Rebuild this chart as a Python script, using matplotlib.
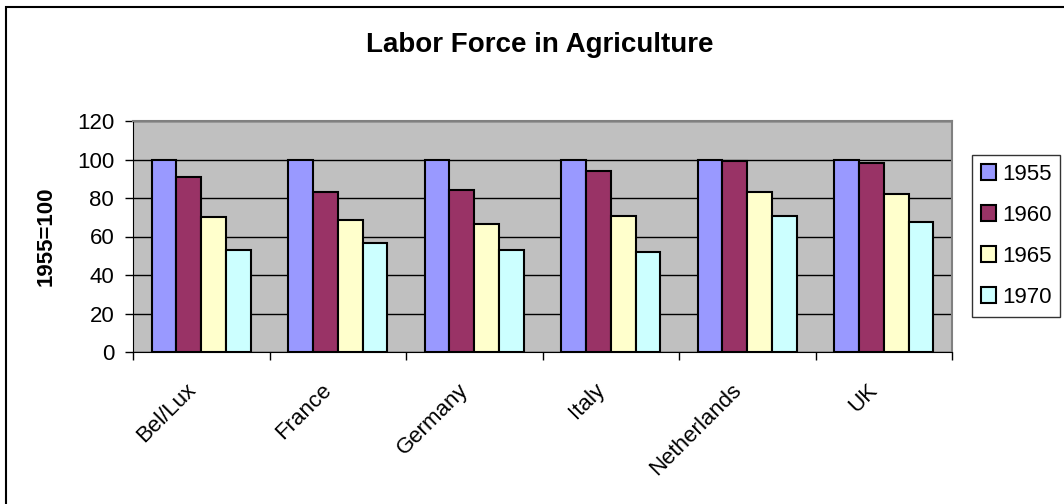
import numpy as np
import matplotlib.pyplot as plt
import matplotlib.transforms as mtransforms
from matplotlib.patches import Rectangle

plt.rcParams['font.family'] = ['Liberation Sans', 'DejaVu Sans']

countries = ["Bel/Lux", "France", "Germany", "Italy", "Netherlands", "UK"]
years = ["1955", "1960", "1965", "1970"]
v1955 = [100, 100, 100, 100, 100, 100]
v1960 = [91, 83, 84, 94, 99, 98]
v1965 = [70, 68.5, 66.5, 70.5, 83, 82]
v1970 = [53, 56.5, 53, 52, 70.5, 67.5]
colors = ["#9999FF", "#993366", "#FFFFCC", "#CCFFFF"]

fig = plt.figure(figsize=(10.64, 5.04), dpi=100)
ax = fig.add_axes([133 / 1064, 1 - 352 / 504, (952 - 133) / 1064, (352 - 121) / 504])

# outer chart border (only left and top fall inside the picture)
fig.patches.append(Rectangle((5.5 / 1064, -0.1), 1.2, 1.1 - 7 / 504,
                             transform=fig.transFigure, fill=False,
                             edgecolor="black", linewidth=1.5))

x = np.arange(len(countries))
w = 1 / 5.5
for i, (vals, c, yr) in enumerate(zip([v1955, v1960, v1965, v1970], colors, years)):
    ax.bar(x + (i - 1.5) * w, vals, width=w, color=c, edgecolor="black",
           linewidth=1.5, label=yr, zorder=3)

ax.set_facecolor("#C0C0C0")
ax.set_xlim(-0.5, len(countries) - 0.5)
ax.set_ylim(0, 120)
ax.set_yticks(range(0, 121, 20))
ax.yaxis.grid(True, color="black", linewidth=1, zorder=0)
ax.tick_params(axis="y", labelsize=16, direction="out", length=5.5, width=1, pad=8)

# ticks between categories, labels at the centers
ax.set_xticks(np.arange(-0.5, len(countries), 1))
ax.set_xticklabels([])
ax.set_xticks(x, minor=True)
ax.set_xticklabels(countries, minor=True, rotation=45, ha="right", va="center",
                   rotation_mode="anchor", fontsize=16)
ax.tick_params(axis="x", which="major", direction="out", length=6, width=1)
ax.tick_params(axis="x", which="minor", length=0, pad=25)
shift = mtransforms.ScaledTranslation(-0.09, 0, fig.dpi_scale_trans)
for lbl in ax.get_xticklabels(minor=True):
    lbl.set_transform(lbl.get_transform() + shift)

for s in ["left", "bottom"]:
    ax.spines[s].set_color("black")
for s in ["top", "right"]:
    ax.spines[s].set_color("#808080")
    ax.spines[s].set_linewidth(1.5)

ax.set_ylabel("1955=100", fontsize=16, fontweight="bold")
ax.yaxis.set_label_coords(-0.093, 0.5)
fig.text(540 / 1064, 1 - 45 / 504, "Labor Force in Agriculture", ha="center",
         va="center", fontsize=20, fontweight="bold")

leg = ax.legend(loc="upper left", bbox_to_anchor=(972 / 1064, 1 - 155 / 504),
                bbox_transform=fig.transFigure, fontsize=16, frameon=True,
                fancybox=False, edgecolor="black", handlelength=0.68,
                handleheight=0.68, handletextpad=0.27, labelspacing=0.9,
                borderpad=0.4, borderaxespad=0)
leg.get_frame().set_linewidth(1)

fig.savefig("out.png", dpi=100)
